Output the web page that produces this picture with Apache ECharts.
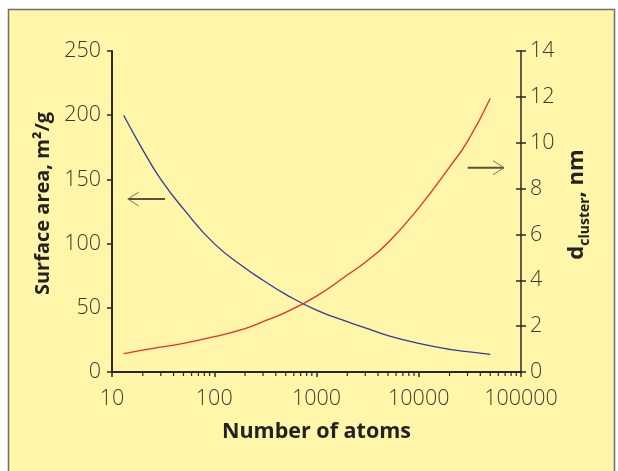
<!DOCTYPE html>
<html>
<head>
<meta charset="utf-8">
<script src="https://cdn.jsdelivr.net/npm/echarts@6/dist/echarts.min.js"></script>
<style>
html,body{margin:0;padding:0;background:#ffffff;}
#chart{width:618px;height:471px;}
</style>
</head>
<body>
<div id="chart"></div>
<script>
// Data
const atoms = [13, 20, 30, 50, 100, 200, 300, 500, 1000, 2000, 3000, 5000, 10000, 20000, 30000, 50000];
const surfaceArea = [200, 173, 150, 127, 100, 81, 71.5, 60.5, 48.2, 39.2, 34.4, 28.3, 22.3, 17.7, 15.9, 13.8];
const dCluster = [0.8, 0.95, 1.085, 1.25, 1.54, 1.89, 2.2, 2.6, 3.31, 4.23, 4.79, 5.64, 7.16, 8.94, 10.06, 11.93];
const xTickLabels = ['10', '100', '1000', '10000', '100000'];
const minorTickValues = [];
[10, 100, 1000, 10000].forEach(function (d) {
  for (let k = 2; k <= 9; k++) minorTickValues.push(d * k);
});
// annotation arrows, in data coordinates: [xStart, xEnd, y]
const leftArrow = [14.3, 33, 134.7];   // points left, left axis
const rightArrow = [30100, 68200, 8.91]; // points right, right axis

const FONT = '"Open Sans", "DejaVu Sans", sans-serif';
const TXT = '#3a3a30';
const AX = '#2a2a2a';

const chart = echarts.init(document.getElementById('chart'), null, {renderer: 'canvas'});

const option = {
  backgroundColor: 'transparent',
  animation: false,
  graphic: [{
    type: 'rect', z: -10, silent: true,
    shape: {x: 8.5, y: 9.5, width: 606, height: 470},
    style: {fill: '#FFF6AA', stroke: '#6e6e6e', lineWidth: 1.5}
  }],
  grid: {left: 112, right: 97, top: 51, bottom: 99, containLabel: false},
  xAxis: [{
    type: 'log', logBase: 10, min: 10, max: 100000,
    name: 'Number of atoms', nameLocation: 'middle', nameGap: 49,
    nameTextStyle: {fontFamily: FONT, fontWeight: 'bold', fontSize: 21.5, color: '#222'},
    axisLine: {show: true, lineStyle: {color: AX, width: 2}},
    axisTick: {show: true, inside: false, length: 5, lineStyle: {color: AX, width: 1.5}},
    splitLine: {show: false},
    minorTick: {show: false},
    axisLabel: {
      fontFamily: FONT, fontWeight: 300, fontSize: 21.5, color: TXT, margin: 16,
      formatter: function (v) {
        const i = Math.round(Math.log10(v)) - 1;
        return xTickLabels[i] !== undefined ? xTickLabels[i] : '';
      }
    }
  }, {
    type: 'log', logBase: 10, min: 10, max: 100000, position: 'top',
    axisLine: {show: true, lineStyle: {color: AX, width: 1.5}},
    axisTick: {show: false}, axisLabel: {show: false}, splitLine: {show: false}
  }],
  yAxis: [{
    type: 'value', min: 0, max: 250, interval: 50, position: 'left',
    name: 'Surface area, m²/g', nameLocation: 'middle', nameRotate: 90, nameGap: 55,
    nameTextStyle: {fontFamily: FONT, fontWeight: 'bold', fontSize: 20, color: '#222', padding: [0, 0, 0, 16]},
    axisLine: {show: true, lineStyle: {color: AX, width: 2}},
    axisTick: {show: true, inside: false, length: 5, lineStyle: {color: AX, width: 1.5}},
    splitLine: {show: false},
    axisLabel: {fontFamily: FONT, fontWeight: 300, fontSize: 21.5, color: TXT, margin: 11}
  }, {
    type: 'value', min: 0, max: 14, interval: 2, position: 'right',
    name: '{a|d}{b|cluster}{c|, nm}', nameLocation: 'middle', nameRotate: 90, nameGap: 45,
    nameTextStyle: {
      fontFamily: FONT, fontWeight: 'bold', color: '#222', padding: [0, 0, 0, 14],
      rich: {
        a: {fontFamily: FONT, fontWeight: 'bold', fontSize: 22, color: '#222', lineHeight: 26, verticalAlign: 'top'},
        b: {fontFamily: FONT, fontWeight: 'bold', fontSize: 14, color: '#222', lineHeight: 17, verticalAlign: 'bottom'},
        c: {fontFamily: FONT, fontWeight: 'bold', fontSize: 22, color: '#222', lineHeight: 26, verticalAlign: 'top'}
      }
    },
    axisLine: {show: true, lineStyle: {color: AX, width: 1.5}},
    axisTick: {show: true, inside: false, length: 5, lineStyle: {color: AX, width: 1.5}},
    splitLine: {show: false},
    axisLabel: {fontFamily: FONT, fontWeight: 300, fontSize: 21.5, color: TXT, margin: 9}
  }, {
    type: 'value', min: 0, max: 14, interval: 2, position: 'right',
    axisLine: {show: false},
    axisTick: {show: true, inside: true, length: 5, lineStyle: {color: AX, width: 1.5}},
    axisLabel: {show: false}, splitLine: {show: false}
  }],
  series: [{
    name: 'Surface area', type: 'line', xAxisIndex: 0, yAxisIndex: 0,
    data: atoms.map(function (n, i) { return [n, surfaceArea[i]]; }),
    smooth: 0.5, showSymbol: false, symbol: 'none',
    lineStyle: {color: '#2E3A9C', width: 1.3}
  }, {
    name: 'd cluster', type: 'line', xAxisIndex: 0, yAxisIndex: 1,
    data: atoms.map(function (n, i) { return [n, dCluster[i]]; }),
    smooth: 0.5, showSymbol: false, symbol: 'none',
    lineStyle: {color: '#EE2B2B', width: 1.3}
  }, {
    name: 'minor ticks', type: 'custom', xAxisIndex: 0, yAxisIndex: 0, silent: true, clip: false,
    data: minorTickValues.map(function (v) { return [v, 0]; }),
    renderItem: function (params, api) {
      const p = api.coord([api.value(0), 0]);
      return {type: 'line', shape: {x1: p[0], y1: p[1], x2: p[0], y2: p[1] + 4},
        style: {stroke: AX, lineWidth: 1.2}};
    }
  }]
};
chart.setOption(option);

function arrowGraphic(xs, xe, yv, yIdx, pointRight) {
  const a = chart.convertToPixel({xAxisIndex: 0, yAxisIndex: yIdx}, [xs, yv]);
  const b = chart.convertToPixel({xAxisIndex: 0, yAxisIndex: yIdx}, [xe, yv]);
  const tip = pointRight ? b : a;
  const dir = pointRight ? -1 : 1;
  return [{
    type: 'line', silent: true, z: 50,
    shape: {x1: a[0], y1: a[1], x2: b[0], y2: b[1]},
    style: {stroke: '#55553f', lineWidth: 2}
  }, {
    type: 'polyline', silent: true, z: 50,
    shape: {points: [[tip[0] + dir * 11, tip[1] - 7], [tip[0], tip[1]], [tip[0] + dir * 11, tip[1] + 7]]},
    style: {stroke: '#77775f', lineWidth: 1, fill: null}
  }];
}
const g = [option.graphic[0]]
  .concat(arrowGraphic(leftArrow[0], leftArrow[1], leftArrow[2], 0, false))
  .concat(arrowGraphic(rightArrow[0], rightArrow[1], rightArrow[2], 1, true));
chart.setOption({graphic: g});
</script>
</body>
</html>
